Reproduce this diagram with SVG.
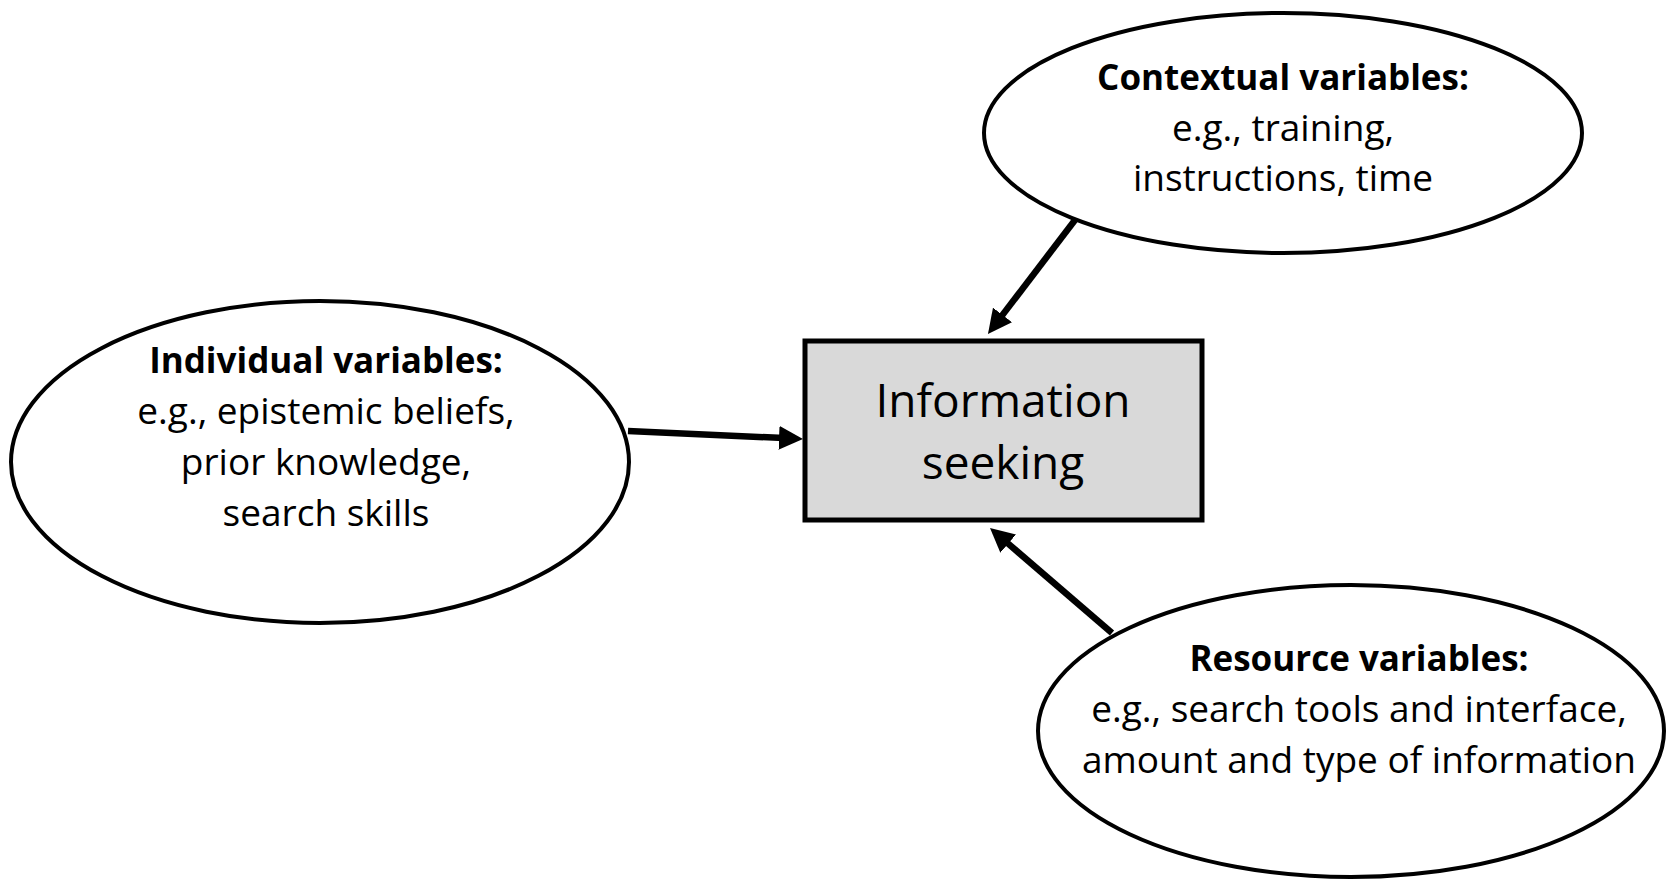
<svg xmlns="http://www.w3.org/2000/svg" width="1668" height="881" viewBox="0 0 1668 881">
  <style>
    .node { fill: #ffffff; stroke: #000000; stroke-width: 4; }
    .box { fill: #d9d9d9; stroke: #000000; stroke-width: 5; }
    .t { font-family: "Open Sans", "Liberation Sans", sans-serif; font-size: 37px; fill: #000000; text-anchor: middle; }
    .b { font-weight: bold; font-size: 35px; }
    .big { font-size: 46px; }
    .conn { stroke: #000000; stroke-width: 6.5; fill: none; marker-end: url(#arrow); }
  </style>
  <defs>
    <marker id="arrow" markerUnits="userSpaceOnUse" markerWidth="24" markerHeight="24" refX="5" refY="12" orient="auto">
      <path d="M0,0 L24,12 L0,24 z" fill="#000000"/>
    </marker>
  </defs>
  <rect width="1668" height="881" fill="#ffffff"/>

  <g id="contextual">
    <ellipse class="node" cx="1283" cy="133" rx="299" ry="120"/>
    <text class="t b" x="1283" y="90">Contextual variables:</text>
    <text class="t" x="1283" y="141">e.g., training,</text>
    <text class="t" x="1283" y="191">instructions, time</text>
  </g>

  <g id="individual">
    <ellipse class="node" cx="320" cy="462" rx="309" ry="161"/>
    <text class="t b" x="326" y="373">Individual variables:</text>
    <text class="t" x="326" y="424">e.g., epistemic beliefs,</text>
    <text class="t" x="326" y="475">prior knowledge,</text>
    <text class="t" x="326" y="526">search skills</text>
  </g>

  <g id="information-seeking">
    <rect class="box" x="805" y="341" width="397" height="179"/>
    <text class="t big" x="1003" y="417">Information</text>
    <text class="t big" x="1003" y="479">seeking</text>
  </g>

  <g id="resource">
    <ellipse class="node" cx="1351" cy="731" rx="313" ry="146"/>
    <text class="t b" x="1359" y="671">Resource variables:</text>
    <text class="t" x="1359" y="722">e.g., search tools and interface,</text>
    <text class="t" x="1359" y="773">amount and type of information</text>
  </g>

  <g id="connectors">
    <line class="conn" x1="1075" y1="220" x2="999.5" y2="318.9"/>
    <line class="conn" x1="628" y1="431" x2="784" y2="438.1"/>
    <line class="conn" x1="1112" y1="633" x2="1004.4" y2="540.4"/>
  </g>
</svg>
